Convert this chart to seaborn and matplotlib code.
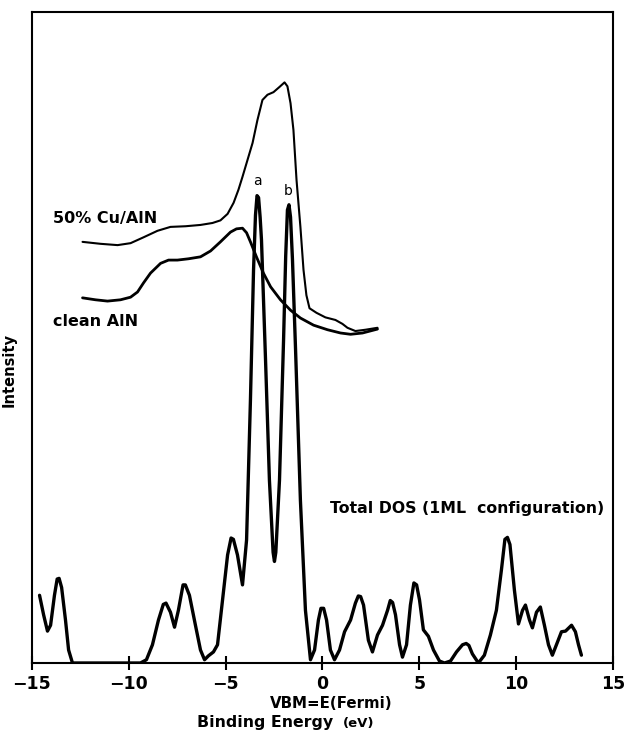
import numpy as np
import pandas as pd
import matplotlib
matplotlib.use('Agg')
import matplotlib.pyplot as plt
import seaborn as sns

# Total DOS (1ML configuration), energy in eV, intensity in arbitrary units (0-100)
dos_energy = [-14.61, -14.40, -14.20, -14.04, -13.84, -13.70, -13.60, -13.47, -13.27, -13.11, -12.91,
              -9.40, -9.09, -8.78, -8.47, -8.22, -8.08, -7.85, -7.64, -7.44, -7.20, -7.08, -6.87,
              -6.56, -6.30, -6.09, -5.89, -5.63, -5.42, -5.16, -4.90, -4.72, -4.60, -4.39,
              -4.13, -3.92, -3.72, -3.56, -3.46, -3.38, -3.30, -3.22, -3.15, -2.94, -2.74, -2.55, -2.48, -2.41,
              -2.22, -2.01, -1.90, -1.81, -1.73, -1.65, -1.55, -1.39, -1.14, -0.88, -0.62, -0.41,
              -0.21, -0.08, 0.06, 0.21, 0.41, 0.62, 0.88, 1.14, 1.45, 1.70, 1.85, 1.97,
              2.12, 2.37, 2.58, 2.84, 3.10, 3.36, 3.50, 3.62, 3.77, 3.98, 4.13,
              4.34, 4.54, 4.72, 4.86, 5.01, 5.21, 5.47, 5.73, 6.04, 6.30, 6.61,
              6.92, 7.23, 7.42, 7.56, 7.74, 8.05, 8.36, 8.67, 8.98, 9.24, 9.42,
              9.55, 9.68, 9.91, 10.12, 10.33, 10.48, 10.69, 10.84, 11.05, 11.25,
              11.46, 11.67, 11.87, 12.08, 12.34, 12.55, 12.86, 13.06, 13.22, 13.37]
dos_value = [10.4, 7.4, 4.9, 5.8, 10.4, 12.9, 13.0, 11.6, 6.6, 2.0, 0.0,
             0.0, 0.5, 2.8, 6.6, 9.0, 9.2, 7.8, 5.5, 8.1, 12.0, 12.0, 10.4,
             5.8, 2.0, 0.5, 1.1, 1.7, 2.8, 9.7, 16.6, 19.2, 19.0, 16.6,
             12.0, 18.9, 40.4, 60.4, 68.8, 71.8, 71.5, 68.5, 65.0, 46.5, 28.1, 17.0, 15.6, 17.0,
             28.1, 49.6, 62.5, 69.6, 70.4, 68.5, 62.0, 48.1, 25.0, 8.1, 0.5, 2.0,
             6.6, 8.4, 8.4, 6.6, 2.0, 0.5, 2.0, 4.8, 6.6, 9.2, 10.3, 10.2,
             8.9, 3.5, 1.7, 4.3, 5.8, 8.1, 9.6, 9.3, 7.4, 2.8, 0.9,
             2.8, 8.9, 12.3, 12.0, 9.7, 5.1, 4.1, 2.0, 0.3, 0.0, 0.3,
             1.7, 2.8, 3.0, 2.7, 1.4, 0.0, 1.2, 4.3, 8.1, 14.3, 19.0,
             19.3, 18.2, 11.2, 6.0, 8.1, 8.9, 6.6, 5.4, 7.8, 8.6,
             5.8, 2.8, 1.2, 2.8, 4.8, 4.9, 5.8, 4.8, 2.8, 1.2]

# measured spectrum, 50% Cu/AlN
cu_energy = [-12.39, -11.46, -10.58, -9.91, -9.24, -8.52, -7.85, -7.07, -6.30, -5.68,
             -5.27, -4.90, -4.59, -4.34, -4.13, -3.87, -3.61, -3.36, -3.10, -2.84,
             -2.53, -2.22, -1.96, -1.81, -1.65, -1.50, -1.34, -1.14, -0.98, -0.83,
             -0.67, -0.31, 0.15, 0.67, 1.03, 1.29, 1.70, 2.22, 2.84]
cu_value = [64.7, 64.4, 64.2, 64.5, 65.4, 66.4, 67.0, 67.1, 67.3, 67.6,
            68.0, 69.0, 70.7, 72.7, 74.7, 77.3, 79.9, 83.4, 86.5, 87.3,
            87.7, 88.5, 89.2, 88.6, 86.0, 81.9, 74.2, 67.0, 60.4, 56.5,
            54.5, 53.8, 53.1, 52.7, 52.1, 51.5, 51.0, 51.2, 51.5]

# measured spectrum, clean AlN
aln_energy = [-12.39, -11.72, -11.10, -10.43, -9.91, -9.55, -9.24, -8.88, -8.36, -7.95,
              -7.49, -6.92, -6.30, -5.78, -5.27, -4.75, -4.44, -4.13, -3.92, -3.72,
              -3.41, -3.05, -2.68, -2.17, -1.65, -1.14, -0.46, 0.26, 0.93, 1.45,
              2.07, 2.84]
aln_value = [56.1, 55.8, 55.6, 55.8, 56.2, 57.0, 58.4, 59.9, 61.4, 61.9,
             61.9, 62.1, 62.4, 63.3, 64.7, 66.2, 66.7, 66.8, 66.1, 64.7,
             62.4, 59.9, 57.8, 55.8, 54.2, 53.0, 51.9, 51.2, 50.7, 50.5,
             50.7, 51.3]

xticks = [-15, -10, -5, 0, 5, 10, 15]

dos = pd.DataFrame({'E': dos_energy, 'I': dos_value})
cu = pd.DataFrame({'E': cu_energy, 'I': cu_value})
aln = pd.DataFrame({'E': aln_energy, 'I': aln_value})

sns.set_theme(style='white')
plt.rcParams['font.family'] = ['DejaVu Sans']
plt.rcParams['text.color'] = 'black'
plt.rcParams['axes.labelcolor'] = 'black'

fig = plt.figure(figsize=(6.26, 7.33), dpi=100)
ax = fig.add_axes([0.0511, 0.0955, 0.9281, 0.888])

sns.lineplot(data=dos, x='E', y='I', ax=ax, color='black', linewidth=2.4,
             estimator=None, sort=False)
sns.lineplot(data=cu, x='E', y='I', ax=ax, color='black', linewidth=1.5,
             estimator=None, sort=False)
sns.lineplot(data=aln, x='E', y='I', ax=ax, color='black', linewidth=2.0,
             estimator=None, sort=False)
for line in ax.get_lines():
    line.set_solid_joinstyle('round')
    line.set_solid_capstyle('round')

ax.set_xlim(-15, 15)
ax.set_ylim(0, 100)
ax.set_xticks(xticks)
ax.set_xticklabels([str(t).replace('-', '\u2212') for t in xticks],
                   fontsize=12.5, fontweight='bold', color='black')
ax.set_yticks([])
ax.tick_params(axis='x', direction='inout', length=10, width=1.5, bottom=True,
               pad=4, colors='black')
for s in ax.spines.values():
    s.set_color('black')
    s.set_linewidth(1.5)
ax.set_xlabel('')
ax.set_ylabel('Intensity', fontsize=10.5, fontweight='semibold')
ax.yaxis.set_label_coords(-0.027, 0.45)

ax.text(-3.35, 73.0, 'a', ha='center', va='bottom', fontsize=10)
ax.text(-1.76, 71.5, 'b', ha='center', va='bottom', fontsize=10)
ax.text(-13.94, 68.3, '50% Cu/AlN', ha='left', va='center', fontsize=11.5, fontweight='semibold')
ax.text(-13.94, 52.4, 'clean AlN', ha='left', va='center', fontsize=11.5, fontweight='semibold')
ax.text(0.41, 23.8, 'Total DOS (1ML  configuration)', ha='left', va='center',
        fontsize=11.3, fontweight='semibold')

fig.text(331 / 626, 1 - 703 / 733, 'VBM=E(Fermi)', ha='center', va='center',
         fontsize=10.8, fontweight='semibold')
fig.text(197 / 626, 1 - 722 / 733, 'Binding Energy', ha='left', va='center',
         fontsize=11.3, fontweight='semibold')
fig.text(343 / 626, 1 - 724 / 733, '(eV)', ha='left', va='center',
         fontsize=9.5, fontweight='semibold')

fig.savefig('out.png', dpi=100)
